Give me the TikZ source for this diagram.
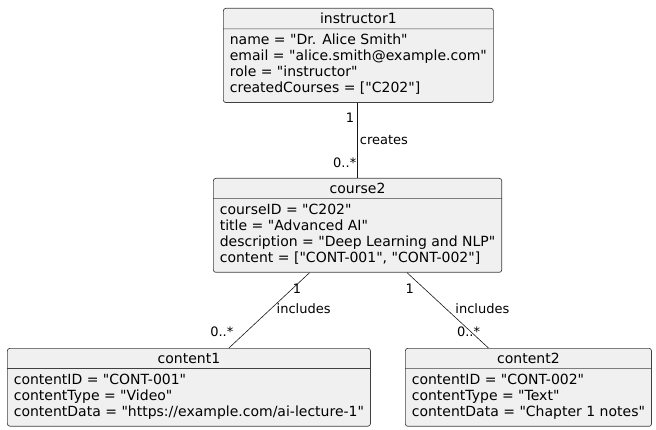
\documentclass[tikz,border=0pt]{standalone}
\usepackage{fontspec}
\setmainfont[Ligatures=TeXOff]{DejaVu Sans}
\usetikzlibrary{shapes.multipart,calc}

\newcommand{\attrs}[1]{\begin{tabular}{@{}l@{}}#1\end{tabular}}

\begin{document}
\begin{tikzpicture}[x=1pt,y=-1pt,
  obj/.style={rectangle split,rectangle split parts=2,rectangle split part align={center,left},
    draw=black!75,line width=0.7pt,fill=black!6,rounded corners=2.5pt,
    inner xsep=6.5pt,inner ysep=4.5pt,anchor=north west,font=\fontsize{14}{16}\selectfont},
  edge/.style={draw=black!90,line width=0.6pt},
  lbl/.style={inner sep=0pt,font=\fontsize{13}{15}\selectfont}]
\useasboundingbox (0,0) rectangle (656,430);
%objects
\node[obj] (instructor1) at (223,8) {instructor1
  \nodepart{two}\attrs{name = "Dr. Alice Smith"\\ email = "alice.smith@example.com"\\ role = "instructor"\\ createdCourses = ["C202"]}};
\node[obj] (course2) at (213,178) {course2
  \nodepart{two}\attrs{courseID = "C202"\\ title = "Advanced AI"\\ description = "Deep Learning and NLP"\\ content = ["CONT-001", "CONT-002"]}};
\node[obj] (content1) at (7,348) {content1
  \nodepart{two}\attrs{contentID = "CONT-001"\\ contentType = "Video"\\ contentData = "https://example.com/ai-lecture-1"}};
\node[obj] (content2) at (405,348) {content2
  \nodepart{two}\attrs{contentID = "CONT-002"\\ contentType = "Text"\\ contentData = "Chapter 1 notes"}};
%links
\draw[edge] (course2.north |- instructor1.south) -- (course2.north)
  node[lbl,pos=0.2,anchor=east,xshift=-3pt] (m1) {1}
  node[lbl,pos=0.49,anchor=west,xshift=2pt] (l1) {creates}
  node[lbl,pos=0.8,anchor=east,xshift=-1pt] (n1) {0..*};
\draw[edge] ($(course2.south)+(-48,0)$) -- ($(content1.north)+(40,0)$)
  node[lbl,pos=0.21,anchor=west] (m2) {1}
  node[lbl,pos=0.48,anchor=west,xshift=5.5pt] (l2) {includes}
  node[lbl,pos=0.78,anchor=east,xshift=-13pt] (n2) {0..*};
\draw[edge] ($(course2.south)+(49.5,0)$) -- ($(content2.north)+(-40,0)$)
  node[lbl,pos=0.21,anchor=east,xshift=-10pt] (m3) {1}
  node[lbl,pos=0.48,anchor=west,xshift=9pt] (l3) {includes}
  node[lbl,pos=0.78,xshift=-2pt] (n3) {0..*};
\end{tikzpicture}
\end{document}
